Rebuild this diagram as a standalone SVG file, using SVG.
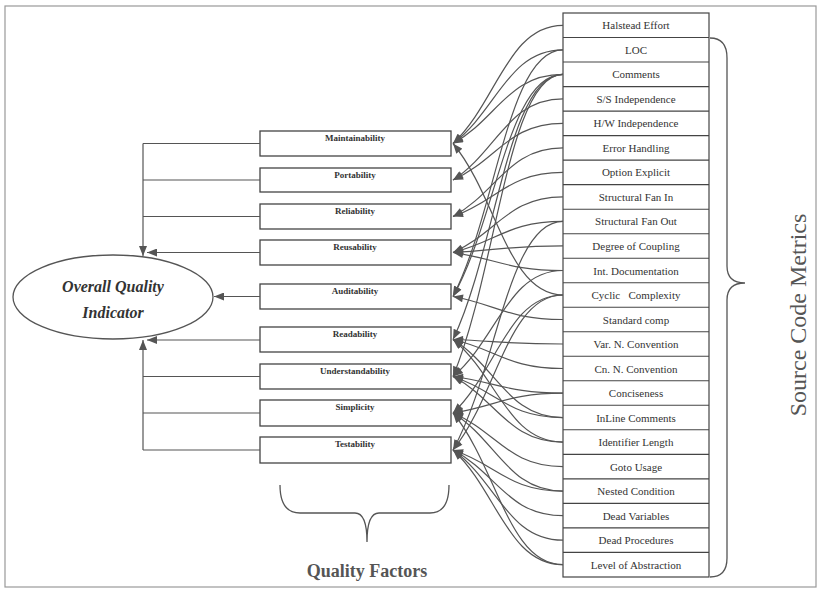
<svg xmlns="http://www.w3.org/2000/svg" width="821" height="590" viewBox="0 0 821 590">
<style>
.frame{fill:none;stroke:#999;stroke-width:1.2}
.box{fill:#fff;stroke:#444;stroke-width:1.3}
.row{fill:#fff;stroke:#444;stroke-width:1.2}
.conn{fill:none;stroke:#555;stroke-width:1.2}
.curve{fill:none;stroke:#555;stroke-width:1.2;marker-end:url(#ah)}
.lft{fill:none;stroke:#555;stroke-width:1.2;marker-end:url(#ahl)}
.brace{fill:none;stroke:#555;stroke-width:1.3}
.mt{font-family:"Liberation Serif",serif;font-size:11px;fill:#333;text-anchor:middle}
.qf{font-family:"Liberation Serif",serif;font-size:9px;font-weight:bold;fill:#333;text-anchor:middle}
.oqi{font-family:"Liberation Serif",serif;font-size:16px;font-weight:bold;font-style:italic;fill:#333;text-anchor:middle}
.qtitle{font-family:"Liberation Serif",serif;font-size:18px;font-weight:bold;fill:#555;text-anchor:middle}
.stitle{font-family:"Liberation Serif",serif;font-size:24px;fill:#555;text-anchor:middle}
</style>
<defs>
<marker id="ah" viewBox="0 0 10 8" refX="10" refY="4" markerWidth="11" markerHeight="8" markerUnits="userSpaceOnUse" orient="auto"><path d="M0,0 L10,4 L0,8 z" fill="#555"/></marker>
<marker id="ahl" viewBox="0 0 10 8" refX="10" refY="4" markerWidth="11" markerHeight="8" markerUnits="userSpaceOnUse" orient="auto"><path d="M0,0 L10,4 L0,8 z" fill="#555"/></marker>
</defs>
<rect width="821" height="590" fill="#fff"/>
<rect class="frame" x="5" y="6" width="811" height="581"/>

<g id="overall">
<ellipse cx="113" cy="297" rx="100" ry="42" fill="#fff" stroke="#555" stroke-width="1.3"/>
<text class="oqi" x="113" y="292">Overall Quality</text>
<text class="oqi" x="113" y="318">Indicator</text>
</g>

<g id="qf-maintainability"><rect class="box" x="260" y="131" width="191" height="25"/><text class="qf" x="355" y="141">Maintainability</text></g>
<g id="qf-portability"><rect class="box" x="260" y="168" width="191" height="24"/><text class="qf" x="355" y="178">Portability</text></g>
<g id="qf-reliability"><rect class="box" x="260" y="204" width="191" height="25"/><text class="qf" x="355" y="214">Reliability</text></g>
<g id="qf-reusability"><rect class="box" x="260" y="240" width="191" height="25"/><text class="qf" x="355" y="250">Reusability</text></g>
<g id="qf-auditability"><rect class="box" x="260" y="284" width="191" height="25"/><text class="qf" x="355" y="294">Auditability</text></g>
<g id="qf-readability"><rect class="box" x="260" y="327" width="191" height="25"/><text class="qf" x="355" y="337">Readability</text></g>
<g id="qf-understandability"><rect class="box" x="260" y="364" width="191" height="25"/><text class="qf" x="355" y="374">Understandability</text></g>
<g id="qf-simplicity"><rect class="box" x="260" y="400" width="191" height="26"/><text class="qf" x="355" y="410">Simplicity</text></g>
<g id="qf-testability"><rect class="box" x="260" y="437" width="191" height="26"/><text class="qf" x="355" y="447">Testability</text></g>

<g id="metrics">
<rect class="row" x="563" y="13" width="146" height="564"/>
<g stroke="#444" stroke-width="1.1">
<line x1="563" y1="37.5" x2="709" y2="37.5"/><line x1="563" y1="62" x2="709" y2="62"/><line x1="563" y1="86.6" x2="709" y2="86.6"/><line x1="563" y1="111.1" x2="709" y2="111.1"/><line x1="563" y1="135.6" x2="709" y2="135.6"/><line x1="563" y1="160.1" x2="709" y2="160.1"/><line x1="563" y1="184.6" x2="709" y2="184.6"/><line x1="563" y1="209.2" x2="709" y2="209.2"/><line x1="563" y1="233.7" x2="709" y2="233.7"/><line x1="563" y1="258.2" x2="709" y2="258.2"/><line x1="563" y1="282.7" x2="709" y2="282.7"/><line x1="563" y1="307.2" x2="709" y2="307.2"/><line x1="563" y1="331.8" x2="709" y2="331.8"/><line x1="563" y1="356.3" x2="709" y2="356.3"/><line x1="563" y1="380.8" x2="709" y2="380.8"/><line x1="563" y1="405.3" x2="709" y2="405.3"/><line x1="563" y1="429.8" x2="709" y2="429.8"/><line x1="563" y1="454.4" x2="709" y2="454.4"/><line x1="563" y1="478.9" x2="709" y2="478.9"/><line x1="563" y1="503.4" x2="709" y2="503.4"/><line x1="563" y1="527.9" x2="709" y2="527.9"/><line x1="563" y1="552.4" x2="709" y2="552.4"/>
</g>
<text class="mt" x="636" y="29.3">Halstead Effort</text>
<text class="mt" x="636" y="53.8">LOC</text>
<text class="mt" x="636" y="78.3">Comments</text>
<text class="mt" x="636" y="102.8">S/S Independence</text>
<text class="mt" x="636" y="127.3">H/W Independence</text>
<text class="mt" x="636" y="151.9">Error Handling</text>
<text class="mt" x="636" y="176.4">Option Explicit</text>
<text class="mt" x="636" y="200.9">Structural Fan In</text>
<text class="mt" x="636" y="225.4">Structural Fan Out</text>
<text class="mt" x="636" y="249.9">Degree of Coupling</text>
<text class="mt" x="636" y="274.5">Int. Documentation</text>
<text class="mt" x="636" y="299" xml:space="preserve">Cyclic   Complexity</text>
<text class="mt" x="636" y="323.5">Standard comp</text>
<text class="mt" x="636" y="348">Var. N. Convention</text>
<text class="mt" x="636" y="372.5">Cn. N. Convention</text>
<text class="mt" x="636" y="397.1">Conciseness</text>
<text class="mt" x="636" y="421.6">InLine Comments</text>
<text class="mt" x="636" y="446.1">Identifier Length</text>
<text class="mt" x="636" y="470.6">Goto Usage</text>
<text class="mt" x="636" y="495.1">Nested Condition</text>
<text class="mt" x="636" y="519.7">Dead Variables</text>
<text class="mt" x="636" y="544.2">Dead Procedures</text>
<text class="mt" x="636" y="568.7">Level of Abstraction</text>
</g>

<g id="connectors">
<path class="conn" d="M260 143.5 H143 M260 180 H143 M260 216.5 H143"/>
<path class="lft" d="M143 143.5 V256"/>
<path class="lft" d="M260 252.5 H147"/>
<path class="lft" d="M260 296.5 H214"/>
<path class="lft" d="M260 340 H147"/>
<path class="conn" d="M260 376.5 H143 M260 413 H143 M260 450 H143"/>
<path class="lft" d="M143 450 V340"/>
<path class="curve" d="M563 25.3 C508 25.3,497 102.1,453 143.5"/>
<path class="curve" d="M563 49.8 C508 49.8,497 110.7,453 143.5"/>
<path class="curve" d="M563 74.3 C508 74.3,497 119.3,453 143.5"/>
<path class="curve" d="M563 295 C508 295,497 196.5,453 143.5"/>
<path class="curve" d="M563 49.8 C508 49.8,497 210.2,453 296.5"/>
<path class="curve" d="M563 74.3 C508 74.3,497 218.7,453 296.5"/>
<path class="curve" d="M563 319.5 C508 319.5,497 304.6,453 296.5"/>
<path class="curve" d="M563 74.3 C508 74.3,497 246.7,453 339.5"/>
<path class="curve" d="M563 74.3 C508 74.3,497 270.7,453 376.5"/>
<path class="curve" d="M563 98.8 C508 98.8,497 151.6,453 180"/>
<path class="curve" d="M563 123.3 C508 123.3,497 160.2,453 180"/>
<path class="curve" d="M563 147.9 C508 147.9,497 192.5,453 216.5"/>
<path class="curve" d="M563 172.4 C508 172.4,497 201.1,453 216.5"/>
<path class="curve" d="M563 196.9 C508 196.9,497 233,453 252.5"/>
<path class="curve" d="M563 221.4 C508 221.4,497 241.6,453 252.5"/>
<path class="curve" d="M563 245.9 C508 245.9,497 250.2,453 252.5"/>
<path class="curve" d="M563 270.5 C508 270.5,497 258.8,453 252.5"/>
<path class="curve" d="M563 221.4 C508 221.4,497 370,453 450"/>
<path class="curve" d="M563 270.5 C508 270.5,497 339.4,453 376.5"/>
<path class="curve" d="M563 295 C508 295,497 371.7,453 413"/>
<path class="curve" d="M563 295 C508 295,497 395.8,453 450"/>
<path class="curve" d="M563 344 C508 344,497 341.1,453 339.5"/>
<path class="curve" d="M563 368.5 C508 368.5,497 349.7,453 339.5"/>
<path class="curve" d="M563 417.6 C508 417.6,497 366.8,453 339.5"/>
<path class="curve" d="M563 442.1 C508 442.1,497 375.4,453 339.5"/>
<path class="curve" d="M563 393.1 C508 393.1,497 382.3,453 376.5"/>
<path class="curve" d="M563 417.6 C508 417.6,497 390.9,453 376.5"/>
<path class="curve" d="M563 442.1 C508 442.1,497 399.5,453 376.5"/>
<path class="curve" d="M563 393.1 C508 393.1,497 406,453 413"/>
<path class="curve" d="M563 466.6 C508 466.6,497 431.8,453 413"/>
<path class="curve" d="M563 491.1 C508 491.1,497 440.3,453 413"/>
<path class="curve" d="M563 564.7 C508 564.7,497 466.1,453 413"/>
<path class="curve" d="M563 491.1 C508 491.1,497 464.4,453 450"/>
<path class="curve" d="M563 515.7 C508 515.7,497 473,453 450"/>
<path class="curve" d="M563 540.2 C508 540.2,497 481.6,453 450"/>
<path class="curve" d="M563 564.7 C508 564.7,497 490.1,453 450"/>
</g>

<g id="metrics-brace">
<path class="brace" d="M710 38 Q727 38 727 58 L727 266 Q727 283 745 283 Q727 283 727 300 L727 558 Q727 577 710 577"/>
<text class="stitle" transform="translate(806 315) rotate(-90)">Source Code Metrics</text>
</g>

<g id="factors-brace">
<path class="brace" d="M280 485 Q280 513 300 513 L355 513 Q367 513 367 542 Q367 513 379 513 L430 513 Q449 513 449 485"/>
<text class="qtitle" x="367" y="577">Quality Factors</text>
</g>
</svg>
